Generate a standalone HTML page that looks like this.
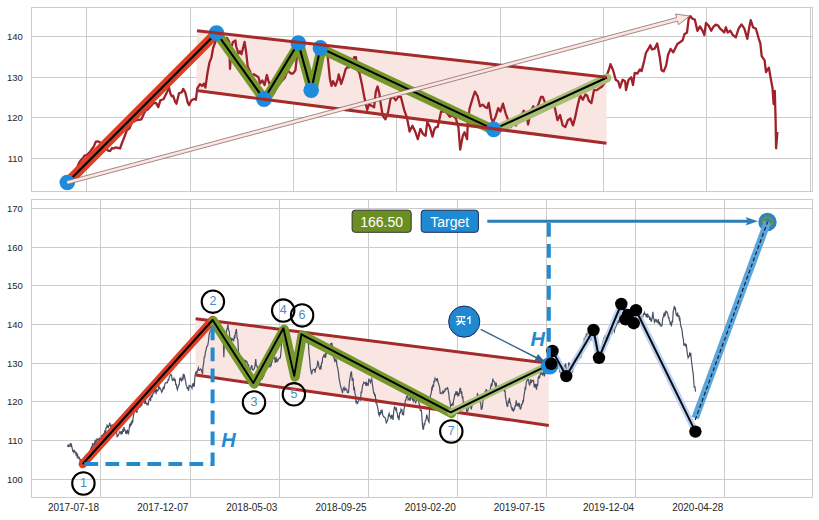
<!DOCTYPE html>
<html><head><meta charset="utf-8"><style>html,body{margin:0;padding:0;background:#fff;}svg{display:block;}</style></head>
<body>
<svg width="819" height="520" viewBox="0 0 819 520">
<rect width="819" height="520" fill="#fff"/>
<line x1="86.5" y1="7.5" x2="86.5" y2="191.5" stroke="#cccccc" stroke-width="1"/>
<line x1="190.5" y1="7.5" x2="190.5" y2="191.5" stroke="#cccccc" stroke-width="1"/>
<line x1="293.5" y1="7.5" x2="293.5" y2="191.5" stroke="#cccccc" stroke-width="1"/>
<line x1="396.5" y1="7.5" x2="396.5" y2="191.5" stroke="#cccccc" stroke-width="1"/>
<line x1="500.5" y1="7.5" x2="500.5" y2="191.5" stroke="#cccccc" stroke-width="1"/>
<line x1="603.5" y1="7.5" x2="603.5" y2="191.5" stroke="#cccccc" stroke-width="1"/>
<line x1="706.5" y1="7.5" x2="706.5" y2="191.5" stroke="#cccccc" stroke-width="1"/>
<line x1="810.5" y1="7.5" x2="810.5" y2="191.5" stroke="#cccccc" stroke-width="1"/>
<line x1="31.5" y1="36.5" x2="812.5" y2="36.5" stroke="#cccccc" stroke-width="1"/>
<line x1="31.5" y1="77.5" x2="812.5" y2="77.5" stroke="#cccccc" stroke-width="1"/>
<line x1="31.5" y1="117.5" x2="812.5" y2="117.5" stroke="#cccccc" stroke-width="1"/>
<line x1="31.5" y1="158.5" x2="812.5" y2="158.5" stroke="#cccccc" stroke-width="1"/>
<rect x="31.5" y="7.5" width="781.0" height="184.0" fill="none" stroke="#cccccc" stroke-width="1"/>
<line x1="100.5" y1="199.5" x2="100.5" y2="497.5" stroke="#cccccc" stroke-width="1"/>
<line x1="190.5" y1="199.5" x2="190.5" y2="497.5" stroke="#cccccc" stroke-width="1"/>
<line x1="279.5" y1="199.5" x2="279.5" y2="497.5" stroke="#cccccc" stroke-width="1"/>
<line x1="368.5" y1="199.5" x2="368.5" y2="497.5" stroke="#cccccc" stroke-width="1"/>
<line x1="457.5" y1="199.5" x2="457.5" y2="497.5" stroke="#cccccc" stroke-width="1"/>
<line x1="546.5" y1="199.5" x2="546.5" y2="497.5" stroke="#cccccc" stroke-width="1"/>
<line x1="635.5" y1="199.5" x2="635.5" y2="497.5" stroke="#cccccc" stroke-width="1"/>
<line x1="724.5" y1="199.5" x2="724.5" y2="497.5" stroke="#cccccc" stroke-width="1"/>
<line x1="31.5" y1="208.5" x2="812.5" y2="208.5" stroke="#cccccc" stroke-width="1"/>
<line x1="31.5" y1="247.5" x2="812.5" y2="247.5" stroke="#cccccc" stroke-width="1"/>
<line x1="31.5" y1="285.5" x2="812.5" y2="285.5" stroke="#cccccc" stroke-width="1"/>
<line x1="31.5" y1="324.5" x2="812.5" y2="324.5" stroke="#cccccc" stroke-width="1"/>
<line x1="31.5" y1="363.5" x2="812.5" y2="363.5" stroke="#cccccc" stroke-width="1"/>
<line x1="31.5" y1="401.5" x2="812.5" y2="401.5" stroke="#cccccc" stroke-width="1"/>
<line x1="31.5" y1="440.5" x2="812.5" y2="440.5" stroke="#cccccc" stroke-width="1"/>
<line x1="31.5" y1="479.5" x2="812.5" y2="479.5" stroke="#cccccc" stroke-width="1"/>
<rect x="31.5" y="199.5" width="781.0" height="298.0" fill="none" stroke="#cccccc" stroke-width="1"/>
<g font-family="Liberation Sans, sans-serif" font-size="9.5" fill="#262626" text-anchor="end">
<text x="22.8" y="40">140</text>
<text x="22.8" y="81">130</text>
<text x="22.8" y="121">120</text>
<text x="22.8" y="162">110</text>
<text x="22.8" y="212">170</text>
<text x="22.8" y="251">160</text>
<text x="22.8" y="289">150</text>
<text x="22.8" y="328">140</text>
<text x="22.8" y="367">130</text>
<text x="22.8" y="405">120</text>
<text x="22.8" y="444">110</text>
<text x="22.8" y="483">100</text>
</g>
<g font-family="Liberation Sans, sans-serif" font-size="10" fill="#262626" text-anchor="end">
<text x="99.1" y="511">2017-07-18</text>
<text x="188.3" y="511">2017-12-07</text>
<text x="277.4" y="511">2018-05-03</text>
<text x="366.6" y="511">2018-09-25</text>
<text x="455.8" y="511">2019-02-20</text>
<text x="544.9" y="511">2019-07-15</text>
<text x="634.1" y="511">2019-12-04</text>
<text x="723.3" y="511">2020-04-28</text>
</g>
<polygon points="197,30.8 606.5,77.3 606.5,143.3 196.5,90.5" fill="#f9e5e2"/>
<path d="M67.3 182.5 L69 178.8 L70.8 177.4 L72.9 174.5 L75 171 L77 167.9 L79 163 L81 160 L83 158 L84.7 155.5 L86.3 155.3 L88 154 L90 151.9 L92 149 L93.9 146.3 L95.8 141.6 L97.7 141.3 L99.7 142 L101.6 144 L103.3 146.1 L105 147 L106.8 149.3 L108.5 150.8 L110.2 150.8 L112 148 L113.7 148.6 L115.4 147.4 L117.7 147.9 L120 148.5 L122 143 L124 138 L127 130 L129.3 128.8 L131.6 123 L133.3 121.7 L135 121 L137.2 119.7 L139.4 119.9 L141.4 119.2 L144.1 113.2 L145.8 110.5 L147.5 109.8 L150 107 L151.8 105.1 L153.6 103.1 L156.2 103.1 L158.3 107.1 L160.3 100.4 L161.9 99.8 L163.6 99 L166.3 93.6 L169 87.6 L170.4 93.6 L171.7 96.3 L173.1 95.7 L175.1 101.7 L176.4 103.7 L179.1 93 L181.8 92.3 L183.2 88.9 L185.2 92.3 L187.9 103.1 L189.2 105.1 L191.2 100.4 L192.9 99.4 L194.6 99 L195.9 99.7 L197.3 88.3 L200 84.2 L202 86 L204 83.6 L205.4 87.6 L207.4 73.5 L209.4 62.7 L211.5 57.3 L213.1 48 L215.4 41.9 L216.5 37 L218.2 38.4 L220 40 L222 42.7 L224 45 L227 38 L229.2 41.9 L230 68.8 L231.5 46.5 L233 41.9 L235.4 40.4 L236.2 46.5 L238.5 53.5 L240 51.2 L241.5 54.2 L244.6 41.9 L246.2 52.7 L247.7 66.5 L250 71.2 L251.5 75.8 L253.8 74.2 L256.2 75.8 L258.5 77.3 L260 83.5 L262.3 80.4 L264.6 85 L266.9 75 L268.5 81.2 L271 88 L273.8 93.5 L277 86 L279.2 84.2 L281.5 81.2 L284.6 78 L287.7 70.4 L290.8 73.5 L293 73.5 L295.4 70.4 L296.9 56.5 L298.5 44.2 L300.2 52.1 L302 58 L305 75 L308 86 L311 90 L314 76 L317 60 L320 50 L322 51.2 L324 52 L325.9 52.6 L327.7 56.5 L330 79.6 L331.5 85.8 L333 81.2 L335.4 85.8 L337.7 79.6 L338.7 74.4 L341.2 83.9 L343.4 77.2 L345.6 69.2 L347.3 67.1 L349 67.5 L351.6 64.9 L354.2 57.1 L356 57.1 L356.8 69.2 L359.4 72.7 L362 84.8 L364.6 98.6 L367.2 109.9 L368.9 104.7 L371.5 105.6 L374.1 107.3 L375.8 91.7 L377.6 86.5 L379.3 93.4 L381 105.6 L382.8 115.9 L385.4 119.4 L388 112.5 L390.6 98.6 L393.1 96.9 L395.7 100.4 L398.3 96.9 L400.9 96.9 L402.6 103.6 L404.4 110.7 L407 117.7 L409.6 131.5 L412.4 125.8 L415 131 L417.8 139.2 L420.4 128.8 L423 134 L425.6 135.7 L427.3 121.9 L429.9 127.1 L432.5 136.6 L434.2 129.7 L435.9 127.1 L437.7 127.1 L439.4 119.3 L441.1 111.5 L443.7 111.5 L445.4 111.7 L447.2 113.3 L449.8 116.7 L452.4 115 L454.1 116.9 L455.8 118.4 L458.4 127.1 L460.2 149.6 L462.8 135.7 L464.5 132.3 L467.1 139.2 L468 118.4 L469.7 108.1 L472.3 99.4 L474.9 91.6 L477.5 96 L480.1 106.3 L482.7 104.6 L485.3 107.2 L487 108 L488.7 102.9 L491.3 118.4 L493 121.9 L495.6 116.7 L498.2 108.1 L500.4 111.5 L503 103.7 L505.6 113.3 L508.2 120.2 L510.8 127.1 L513.4 120.2 L516 125.4 L518.5 118.4 L520.2 115.8 L522 114 L523.7 110.7 L526.3 113.3 L528.1 124.5 L530.7 111.5 L533.3 106.3 L535.8 109.8 L538.4 104.6 L541 96.8 L542.8 96.8 L545.4 103.7 L547.1 103 L548.8 104.6 L550.5 104.3 L552.3 104.6 L554.9 108.1 L557.5 120.2 L560.1 115 L562.7 125.4 L565.3 127.1 L567.9 120.2 L570.4 118.4 L573 125.4 L575 117.9 L577.6 105.7 L580.2 95.4 L582.8 99.7 L585.4 94.5 L587.1 95.4 L588.8 100.6 L591.4 103.1 L594 90.2 L596.6 90.2 L599.2 88.4 L601.8 86.7 L604.4 83.3 L607 74.6 L608.8 70 L610.5 64.2 L613.1 70.3 L615.7 79.8 L618.3 81.5 L620 87.6 L622.6 79.8 L625.2 81.5 L626 90.2 L628.6 79.8 L631.2 77.2 L633 85 L634.7 72.9 L637.3 73.7 L639.9 69.4 L641.6 71.1 L644.2 60.8 L645.9 53 L648.5 48.7 L650.3 45.2 L652 49.5 L654.6 48.7 L657.2 43.5 L659.8 57.3 L661.5 70.3 L663.7 71.4 L666.2 65.4 L668 55 L670.6 48.9 L673.2 52.4 L675.4 48 L677.5 43.7 L679.2 42.9 L681 41.5 L682.7 40.3 L684.4 34.2 L687 32.5 L688.7 18.7 L690.5 16.1 L692.2 18.7 L694.8 19.5 L697.4 30.8 L700 26.4 L702.6 30.8 L704.3 35.1 L706 23 L708.6 25.6 L711.2 30.8 L713.4 26.8 L715.6 24.7 L718.2 25.6 L719.9 28.3 L721.6 29.9 L724.2 32.5 L725.9 27.3 L727.7 32.5 L730.3 30.8 L732.9 35.1 L735.8 37.4 L738.6 28.7 L741.5 24.4 L744.4 28.7 L747.3 38.8 L749 28.7 L750.7 20.1 L753.1 27.3 L755.9 28.7 L758.8 38.8 L760.3 43.1 L761.7 56.1 L764.6 60.4 L766 72 L768.9 67.6 L770.3 76 L772.5 88 L773.6 104 L774.8 91 L775.6 120 L776.1 148.3 L777.4 132" fill="none" stroke="#a0212a" stroke-width="2.3" stroke-linejoin="round"/>
<line x1="67.3" y1="182.5" x2="216.5" y2="33" stroke="#dd3e24" stroke-width="10" stroke-linecap="round"/>
<path d="M217.5 34.2 L265 100.4 L299.3 44.2 L312.2 91.4 L321.4 49.1 L494.7 130.6" fill="none" stroke="#74982b" stroke-width="10" stroke-linejoin="round" stroke-linecap="round"/>
<line x1="494.7" y1="130.4" x2="607" y2="78" stroke="#a6be74" stroke-width="9" stroke-linecap="round"/>
<path d="M67.3 182.5 L216.5 33 L264 99.2 L298.3 43 L311.2 90.2 L320.4 47.9 L493.7 129.4 L607 77.5" fill="none" stroke="#000" stroke-width="2.1" stroke-linejoin="round"/>
<circle cx="67.3" cy="182.5" r="7.8" fill="#1e8cdc"/>
<circle cx="216.5" cy="33" r="7.8" fill="#1e8cdc"/>
<circle cx="264" cy="99.2" r="7.8" fill="#1e8cdc"/>
<circle cx="298.3" cy="43" r="7.8" fill="#1e8cdc"/>
<circle cx="311.2" cy="90.2" r="7.8" fill="#1e8cdc"/>
<circle cx="320.4" cy="47.9" r="7.8" fill="#1e8cdc"/>
<circle cx="493.7" cy="129.4" r="7.8" fill="#1e8cdc"/>
<line x1="197" y1="30.8" x2="606.5" y2="77.3" stroke="#a52a2a" stroke-width="3"/>
<line x1="196.5" y1="90.5" x2="606.5" y2="143.3" stroke="#a52a2a" stroke-width="3"/>
<polygon points="67.8,184.2 677.5,21.1 678.5,24.7 689.6,16 675.6,14 676.6,17.6 66.8,180.8" fill="#fde5e2"/>
<path d="M67.8 184.2 L677.5 21.1 L678.5 24.7 L689.6 16 L675.6 14 L676.6 17.6 L66.8 180.8" fill="none" stroke="#7a5a5a" stroke-width="0.7" stroke-linejoin="miter"/>
<polygon points="195.6,318.7 548.8,363.3 548.8,425.4 195.6,375.1" fill="#f9e5e2"/>
<path d="M67.2 446.3 L67.7 446.4 L68.2 444.3 L68.7 446.6 L69.2 446.3 L69.8 445.8 L70.3 443.1 L70.8 447 L71.3 443.7 L71.8 447 L72.4 449.2 L72.9 451.3 L73.4 450.9 L73.9 452.3 L74.4 450.7 L75 452 L75.5 452 L76 454.5 L76.5 453.4 L77 456.1 L77.6 454.9 L78.1 458.9 L78.6 457.2 L79.1 457.2 L79.6 458.2 L80.1 461.4 L80.7 459.1 L81.3 463.2 L81.9 464.3 L82.4 465.7 L83 464.5 L83.5 464.3 L84 460.4 L84.5 464.5 L85 459 L85.5 461.5 L86 454.5 L86.6 458.3 L87.1 454.5 L87.6 457.1 L88.1 455.6 L88.6 457.6 L89.1 455 L89.7 453 L90.2 451.7 L90.8 448.7 L91.4 447.2 L92 448.5 L92.6 443.1 L93.1 445.2 L93.7 444.1 L94.3 445.1 L94.9 441.7 L95.4 443.1 L96 439.7 L96.6 442.5 L97.1 438.8 L97.7 439.1 L98.2 439.5 L98.8 442.2 L99.3 437.6 L99.8 440 L100.4 438.2 L100.9 438 L101.5 435.7 L102.1 435.9 L102.6 435.1 L103.2 437.1 L103.8 433.4 L104.4 433.3 L104.9 430.1 L105.5 434.4 L106 427.8 L106.6 427.8 L107.1 425 L107.7 425.5 L108.2 428 L108.7 426.3 L109.2 425.6 L109.7 422.8 L110.2 424.4 L110.7 426.9 L111.2 425.9 L111.7 425.3 L112.2 425 L112.7 430.6 L113.3 428 L113.9 431.5 L114.4 428.8 L115 430 L115.6 431.1 L116.1 432.6 L116.6 432.5 L117.1 437.3 L117.6 435.5 L118.2 435.6 L118.7 434.2 L119.2 433.3 L119.7 431.9 L120.2 432.5 L120.7 432.1 L121.2 434.7 L121.7 431 L122.3 434 L122.9 428.8 L123.4 431.9 L124 427.1 L124.6 429.8 L125.2 430.1 L125.8 433.6 L126.3 431.8 L126.9 434.2 L127.5 430.7 L128 431.8 L128.6 433.2 L129.2 428.2 L129.8 423.9 L130.3 425.7 L130.9 423.2 L131.5 424.2 L132.1 420.2 L132.6 423.3 L133.1 417.5 L133.6 415.5 L134.1 410.5 L134.7 410.3 L135.2 410.8 L135.8 410.3 L136.4 412.3 L136.9 412.4 L137.5 408.2 L138.1 408.6 L138.6 404.1 L139.2 407.6 L139.8 405.6 L140.4 407.4 L141 403 L141.6 406 L142.1 403.2 L142.7 402.5 L143.2 401.6 L143.8 400.5 L144.3 399.4 L144.8 404 L145.4 400.1 L146 403.2 L146.5 403.4 L147.1 404.9 L147.7 403.7 L148.3 404.4 L148.9 399.9 L149.5 398.9 L150 398.2 L150.6 400.9 L151.2 394.9 L151.8 397.7 L152.4 395.5 L152.9 393.7 L153.5 392.6 L154 392.8 L154.6 390.2 L155.1 391.9 L155.6 388.9 L156.1 394.2 L156.6 389.1 L157.2 391.2 L157.7 390.9 L158.2 390.2 L158.8 385.3 L159.4 388.4 L159.9 387.8 L160.5 389 L161.1 390.3 L161.7 392.3 L162.3 391.3 L162.9 388.7 L163.5 386.6 L164 389.5 L164.6 385.3 L165.2 383 L165.8 382.6 L166.3 382.8 L166.9 382.4 L167.5 382.6 L168.1 379.5 L168.7 380 L169.3 376.9 L169.8 375.9 L170.4 374.4 L171 374.3 L171.6 375.6 L172.2 380.1 L172.8 380.4 L173.3 379.7 L173.9 378.4 L174.6 381.2 L175.1 378.8 L175.7 384.5 L176.3 384.4 L176.8 387.6 L177.4 389.8 L178 387.6 L178.6 385.2 L179.2 384.8 L179.7 378.9 L180.3 379.6 L180.9 378.1 L181.5 380.7 L182.1 379.3 L182.7 379.8 L183.3 373.8 L183.9 377 L184.4 375.7 L185 379 L185.6 381.4 L186.2 385.2 L186.8 386.6 L187.4 389.1 L187.9 387.2 L188.5 390.9 L189.1 385.7 L189.6 386.3 L190.2 385.6 L190.8 386.5 L191.4 386.8 L192 388.2 L192.6 383.7 L193.2 386.7 L193.7 382.8 L194.3 386.6 L194.9 376 L195.5 373.4 L196.1 371.9 L196.7 373.1 L197.2 372.1 L197.8 370 L198.4 367.9 L199 370.3 L199.6 370.4 L200.1 369.6 L200.7 369 L201.3 369.7 L201.9 371.7 L202.5 374.2 L203.1 366.1 L203.7 363.1 L204.2 357.1 L204.8 356.8 L205.4 351.9 L206 350.4 L206.6 347.1 L207.2 346.1 L207.8 345.1 L208.5 340.9 L209.2 334.2 L209.8 332 L210.5 330.1 L211.2 330.2 L212.1 327.8 L212.6 328.7 L213.1 326.7 L213.6 327.3 L214.1 325.8 L214.6 329.8 L215.1 328.6 L215.7 330.4 L216.3 329.9 L216.9 333.7 L217.4 330.5 L218 332.5 L218.6 334.5 L219.1 331.5 L219.6 330.1 L220.2 329.9 L220.7 329.3 L221.2 327.8 L221.8 329.1 L222.5 331.2 L223.1 329.3 L223.8 357.3 L224.4 344.1 L225.1 334.5 L225.7 332.9 L226.4 332.4 L226.9 328.9 L227.4 328.4 L227.9 324.3 L228.5 330.1 L229.2 330.9 L229.8 337.6 L230.5 338.6 L231.1 342 L231.8 338.4 L232.4 338.9 L233.1 340.5 L233.7 340.8 L234.3 336.6 L234.8 337.5 L235.3 333.4 L235.9 331.1 L236.4 329 L237.1 337.7 L237.8 339.5 L238.5 351.9 L239.1 354.1 L239.8 355.9 L240.4 355.9 L241.1 358.6 L241.7 356.6 L242.4 362 L243.1 359 L243.7 359.9 L244.4 360.4 L244.9 361.8 L245.4 359.9 L245.9 362.1 L246.5 361.2 L247.1 362 L247.8 364.3 L248.5 364.8 L249.1 368.8 L249.7 372.6 L250.4 369.7 L251.1 367.2 L251.7 365.1 L252.4 369.2 L253.1 370.2 L253.7 369.7 L254.4 368.4 L255.1 365.2 L255.7 359.1 L256.4 366 L257.1 366 L257.6 369.4 L258.2 370.6 L258.7 372.3 L259.3 373.4 L259.9 373.5 L260.5 374.3 L261.1 376.8 L261.7 377 L262.2 379.3 L262.8 377.2 L263.4 376.4 L263.9 375.4 L264.5 373.2 L265 369.8 L265.6 369.4 L266.1 365.7 L266.7 368.4 L267.2 366.5 L267.8 367.6 L268.4 365.8 L268.9 365.9 L269.4 366.6 L270 366.9 L270.5 364 L271 366.1 L271.6 361.7 L272.1 362 L272.6 356 L273.2 359.1 L273.7 355.1 L274.3 358.5 L274.8 359.3 L275.3 362.9 L275.9 356.9 L276.4 361.9 L277 359.8 L277.7 361.2 L278.3 359 L278.8 359 L279.3 358 L279.9 358.2 L280.4 357.3 L281 351.6 L281.7 341.3 L282.4 339 L283.1 333.2 L283.6 334.5 L284.1 335.3 L284.6 338.9 L285.1 337.9 L285.6 342.3 L286.1 345.1 L286.6 349.7 L287.1 349.9 L287.6 355.2 L288.2 359.3 L288.7 363.6 L289.2 362.6 L289.7 367.7 L290.2 369.6 L290.8 371.4 L291.3 371.7 L291.8 376.9 L292.3 373.9 L292.8 373.8 L293.4 374.9 L293.9 378.1 L294.4 372.9 L294.9 370.7 L295.4 366.2 L296 365.2 L296.5 361.4 L297 360 L297.5 357.7 L298 354.9 L298.6 350.6 L299.1 348.7 L299.6 346.4 L300.1 344.9 L300.6 340.8 L301.1 339.3 L301.7 335 L302.2 337.7 L302.8 337.8 L303.4 337.9 L304 337.6 L304.6 339.6 L305.1 339.2 L305.7 340.3 L306.2 335.6 L306.7 339 L307.3 340.3 L307.8 343.4 L308.3 341.2 L309 353.4 L309.7 359.5 L310.3 367.5 L311 370.8 L311.6 374.4 L312.3 370.8 L312.9 369.9 L313.4 369.3 L314 369.3 L314.5 369.4 L315 372.6 L315.7 368.5 L316.3 367.9 L317 366.6 L317.8 361.5 L318.4 362.2 L318.9 366.9 L319.5 368.1 L320 369.7 L320.6 366.7 L321.1 367.8 L321.6 362.8 L322.2 362.7 L322.7 357.3 L323.3 357.1 L323.8 355.4 L324.4 356.5 L325 354.7 L325.6 357.8 L326.2 353 L326.8 352.8 L327.3 351.4 L327.9 353.7 L328.4 349.2 L329 353.3 L329.6 348.4 L330.1 349 L330.7 343.1 L331.3 344.8 L331.8 342.9 L332.3 345.6 L332.8 347.1 L333.5 357.3 L334.1 358.1 L334.6 360.7 L335.2 359.4 L335.8 360.9 L336.3 359.4 L336.9 365.1 L337.4 366.9 L338 369.6 L338.6 373.6 L339.1 379 L339.7 381.7 L340.3 384.9 L340.8 386.8 L341.4 389 L341.9 390.1 L342.5 393.1 L343.2 388.7 L344 387.3 L344.5 390.1 L345.1 389.4 L345.7 388.4 L346.2 389.8 L346.8 389.8 L347.4 392.5 L347.9 392.6 L348.5 392.5 L349.2 384.2 L349.9 378.7 L350.5 375 L351 372.4 L351.5 372.1 L352.2 380.9 L353 378.1 L353.7 389.2 L354.4 388.1 L355 393.6 L355.5 395.3 L356 402.1 L356.6 401.3 L357.1 403.7 L357.7 403.2 L358.3 401.2 L358.8 400.3 L359.4 398.8 L359.9 398.6 L360.5 400.7 L361.1 391.5 L361.6 392.9 L362.2 388 L362.8 384.6 L363.3 383.7 L363.8 382.3 L364.4 383.1 L364.9 383.3 L365.5 382.8 L366 385.9 L366.6 383 L367.2 384.8 L367.7 383.9 L368.3 384.8 L368.9 378.6 L369.4 380.2 L370 380.8 L370.5 382.4 L371.1 380.5 L371.7 379.1 L372.2 382.9 L372.7 386.1 L373.2 389.7 L373.7 393 L374.2 392.9 L374.7 395.5 L375.3 395.1 L375.8 401.9 L376.4 400.6 L376.9 404.8 L377.5 406.6 L378.1 409.5 L378.6 413.9 L379.2 415.5 L379.8 412.1 L380.4 414.6 L381 409.8 L381.6 412 L382.2 410.8 L382.7 415.1 L383.3 416.1 L383.9 417 L384.5 417 L385.1 417.6 L385.7 419.8 L386.3 422.8 L386.9 421.8 L387.4 420.7 L388 418.3 L388.5 415.4 L389.1 413.5 L389.7 416 L390.2 416.3 L390.8 418 L391.4 414.8 L391.9 418.3 L392.5 416.7 L393 419.9 L393.8 410.8 L394.5 406.9 L395.1 407.7 L395.6 409.5 L396.2 407.3 L396.8 411.9 L397.3 413.5 L397.9 418.3 L398.4 415.6 L399 420.1 L399.7 412.8 L400.5 412.7 L401 409.2 L401.5 410.4 L402 410 L402.5 415 L403 412.5 L403.5 415.4 L404.1 408.7 L404.7 406 L405.3 400.6 L405.9 399.9 L406.5 396.8 L407 396.6 L407.6 394.9 L408.1 399.7 L408.7 399 L409.2 399.6 L409.7 398.2 L410.2 400.7 L410.7 395.4 L411.2 397.2 L411.7 397.6 L412.3 399.4 L412.9 398 L413.4 401.1 L414 399.5 L414.5 400.5 L415.1 401.1 L415.7 402.6 L416.2 401.4 L416.8 399.8 L417.4 397.8 L418 399.9 L418.6 401.3 L419.2 403.4 L419.7 405.7 L420.3 410.4 L420.9 410.8 L421.4 409.7 L421.9 417 L422.5 425.4 L423 429.1 L423.5 429.2 L424.1 423.9 L424.7 424.4 L425.2 420.9 L426 419.8 L426.7 414.7 L427.3 416.8 L427.8 418.7 L428.4 421.1 L429 422.1 L429.7 404.8 L430.5 395.1 L431.2 393.5 L431.8 388.1 L432.3 389.1 L432.9 384.7 L433.5 387 L434 380.6 L434.6 382.2 L435.1 378.2 L435.7 379.2 L436.3 379.1 L436.8 381.1 L437.4 378.3 L438 382.2 L438.5 383.1 L439.1 385.7 L439.6 387.4 L440.2 393.2 L440.8 392.8 L441.3 393.8 L441.9 393.5 L442.5 392.3 L443 390.3 L443.6 392.7 L444.1 391.7 L444.7 391.5 L445.3 388.8 L445.9 389.6 L446.5 388.8 L447.1 388.1 L447.6 387.7 L448.2 390.6 L448.8 393.3 L449.3 399.7 L449.9 400.8 L450.6 406.6 L451.4 404.8 L451.9 405.2 L452.5 403.6 L453.1 404.6 L453.6 400.3 L454.2 398.1 L454.7 394.6 L455.3 394.8 L455.9 391.3 L456.5 395 L457.1 391.4 L457.8 396.3 L458.3 393.9 L458.9 394.9 L459.5 392.2 L460 388.3 L460.6 388.6 L461.1 394 L461.7 391.4 L462.3 398.4 L462.8 396.3 L463.4 404.8 L464 403.1 L464.5 405.5 L465.1 407.4 L465.6 407.4 L466.2 407.6 L466.8 412.4 L467.3 410.3 L467.9 410.6 L468.5 405.5 L469 407.2 L469.6 405.8 L470.1 406.2 L470.7 405.6 L471.3 409.4 L471.8 406.5 L472.3 405.4 L472.9 403.2 L473.4 403.6 L474 401.8 L474.6 401 L475.1 398.8 L475.7 400.7 L476.2 398 L476.8 398.1 L477.4 393.9 L477.9 394.6 L478.5 396.7 L479.1 400.3 L479.6 399.7 L480.2 402.6 L480.7 402.8 L481.2 409.1 L481.7 409.3 L482.3 407.1 L482.9 401.5 L483.4 399.7 L484 397.1 L484.5 399 L485.1 392 L485.7 392.6 L486.2 389.1 L486.8 394 L487.3 390.7 L487.9 391.1 L488.4 391.6 L489 392.6 L489.5 391 L490.1 389.7 L490.6 387.4 L491.2 384.6 L491.8 386.5 L492.3 383 L492.9 378.6 L493.4 381 L493.9 381.6 L494.5 381.8 L495 384.6 L495.6 386.8 L496.1 382.5 L496.7 386.2 L497.3 387.7 L497.9 389.6 L498.5 385.7 L499.1 388.4 L499.6 386.2 L500.2 389.4 L500.7 386.9 L501.2 389.8 L501.7 389 L502.2 388.7 L502.7 385.5 L503.2 388.6 L503.8 388.3 L504.4 391.7 L504.9 389.3 L505.5 397.1 L506 399.5 L506.6 403.7 L507.2 406.2 L507.7 406.3 L508.3 400.5 L508.9 403 L509.4 397.9 L510 402.4 L510.5 403 L511.1 406.8 L511.7 408.4 L512.2 409.9 L512.8 408.4 L513.4 410.9 L513.9 410.2 L514.5 409.1 L515 406 L515.6 406.1 L516.2 400.3 L516.7 404.8 L517.3 404.3 L517.8 405.4 L518.3 404 L518.9 406.6 L519.5 403.3 L520 408.6 L520.6 409 L521.2 406.9 L521.7 404.3 L522.3 404.2 L522.9 400.9 L523.4 401.4 L524 395.5 L524.6 392.2 L525.1 387.9 L525.7 388.6 L526.3 381.9 L526.8 381.4 L527.4 379.4 L527.9 379.9 L528.5 379.4 L529.1 384.1 L529.6 384.9 L530.2 383.7 L530.8 379.4 L531.3 382.8 L532.1 380.5 L532.8 380.7 L533.5 380.4 L534.3 387.4 L534.8 384.2 L535.4 386.2 L535.9 383.9 L536.5 389.7 L537.1 384.2 L537.6 386 L538.2 377.9 L538.8 376.6 L539.3 377.8 L539.9 376.6 L540.4 372.6 L541 374.3 L541.6 370.6 L542.1 374.4 L542.7 374.9 L543.3 373.4 L543.8 372.2 L544.4 376.4 L544.9 373.4 L545.5 373.1 L546.1 371.8 L546.6 372.5 L547.2 369.2 L547.8 367.4 L548.3 365.1 L548.9 366 L549.4 360.9 L550 359.7 L550.5 356.9 L551 358.7 L551.5 357.1 L552 356.2 L552.5 349.9 L553 352.1 L553.6 350.8 L554.2 354.1 L554.7 354.7 L555.3 357.1 L555.8 356.8 L556.4 361.1 L557 364.6 L557.5 368.8 L558.1 366.9 L558.7 366.9 L559.2 366.7 L559.8 371.9 L560.5 372.4 L561.3 374.2 L561.8 371 L562.4 372.6 L562.9 368 L563.5 367.5 L564.1 366.6 L564.6 367.7 L565.2 364.4 L565.8 364.1 L566.4 374 L567 372.1 L567.6 370.6 L568.1 370.4 L568.7 362.3 L569.3 364.7 L569.8 363.1 L570.4 368 L570.9 364.9 L571.5 367.7 L572 369.9 L572.5 372.7 L573.2 364.9 L574 360 L574.5 359.2 L575.1 362.1 L575.7 358.7 L576.2 359 L576.8 358.4 L577.4 358.5 L577.9 356.2 L578.5 356.2 L579.2 356.4 L579.9 358 L580.5 357.4 L581.1 357 L581.6 351.5 L582.2 351 L582.9 346.4 L583.7 344.4 L584.2 339.4 L584.8 340.2 L585.4 336.8 L585.9 336.7 L586.4 333.6 L587 337.1 L587.5 332.5 L588.2 336.6 L588.9 337.4 L589.5 339.2 L590.1 334.2 L590.6 340.8 L591.2 339.4 L591.8 337.2 L592.3 333.4 L592.9 333.1 L593.4 326.3 L594 336.3 L594.6 339.1 L595.1 342.6 L595.7 344.1 L596.4 351.2 L597.2 356.7 L597.8 357.7 L598.4 357.5 L599.1 360 L599.6 357.4 L600.2 355.3 L600.7 353.1 L601.2 353.1 L601.8 349.4 L602.3 345.5 L602.8 341.1 L603.4 340.1 L603.9 337.9 L604.5 338.3 L605 335.4 L605.6 337.5 L606.2 337.7 L606.7 342.3 L607.3 340.4 L607.8 340.8 L608.4 338.4 L608.9 339.7 L609.4 335 L609.9 333.9 L610.5 333.8 L611 331 L611.6 331.1 L612.1 334.1 L612.7 328.8 L613.3 329.4 L613.8 330.4 L614.4 331.7 L614.9 328.2 L615.5 327.9 L616.2 325.9 L617 323.5 L617.5 320.5 L618.1 322.5 L618.7 320.8 L619.2 322.8 L620 313.2 L620.7 307.8 L621.2 307 L621.7 307.5 L622.3 304.3 L623 306.4 L623.7 306.6 L624.3 306.4 L624.9 306.8 L625.4 308.8 L626 307.7 L626.5 311.5 L627.1 313.5 L627.7 315.9 L628.2 317.5 L628.8 318.8 L629.4 312.5 L629.9 317.4 L630.5 313.9 L631 318.3 L631.6 320.4 L632.2 321.2 L632.7 318.7 L633.5 321 L634.2 321.3 L634.9 317.6 L635.7 313.7 L636.2 315.8 L636.8 313.5 L637.4 315.3 L637.9 313.8 L638.5 315.9 L639 313.1 L639.6 316.3 L640.2 316.6 L640.7 318.5 L641.3 315.5 L641.8 318.6 L642.3 317.6 L642.9 317 L643.4 313.9 L644 314.2 L644.5 312.5 L645.1 314.3 L645.7 314.7 L646.2 317 L646.8 313.6 L647.4 317.6 L648 315 L648.6 316.5 L649.2 316.4 L649.7 319.8 L650.3 317.3 L650.9 320.8 L651.4 321.2 L652.2 317.8 L652.9 311.7 L653.4 317.9 L653.9 318.5 L654.4 322.4 L655 321.7 L655.6 319.5 L656.1 319.4 L656.7 321.8 L657.3 321.3 L657.8 322.2 L658.4 319 L658.9 324.1 L659.5 321.8 L660 325.3 L660.5 323.6 L661 326.2 L661.5 326 L662.1 325.2 L662.7 318.3 L663.3 317 L663.9 314.4 L664.4 315.7 L664.9 313.2 L665.4 314.4 L665.9 311.3 L666.4 312 L666.9 311.8 L667.4 313.2 L667.9 314.5 L668.4 318.4 L668.9 317 L669.4 320.6 L669.9 321.4 L670.4 325 L670.9 322.3 L671.4 326.5 L672 321.3 L672.6 321.8 L673.2 311.4 L673.8 309.2 L674.4 305.9 L674.9 309.6 L675.4 307.6 L675.9 313.1 L676.4 315.3 L677 315.6 L677.6 312.6 L678.2 317.1 L678.9 315 L679.4 319.5 L679.9 318.6 L680.4 323.3 L680.9 326.8 L681.4 327.4 L682 329.8 L682.7 336.3 L683.3 338.8 L683.9 345.8 L684.4 343.5 L684.9 345.6 L685.4 343.6 L685.9 346.1 L686.4 345.4 L687 351.1 L687.6 355 L688.1 357.8 L688.6 356.7 L689.1 356.6 L689.6 353.5 L690.1 354.8 L690.7 352.8 L691.3 359.2 L691.9 364.5 L692.6 369.8 L693.2 373.8 L694.2 387 L694.9 386.8 L695.6 391.6" fill="none" stroke="#485064" stroke-width="1.2"/>
<line x1="195.6" y1="318.7" x2="548.8" y2="363.3" stroke="#a52a2a" stroke-width="3"/>
<line x1="195.6" y1="375.1" x2="548.8" y2="425.4" stroke="#a52a2a" stroke-width="3"/>
<line x1="82.8" y1="464" x2="212.6" y2="320" stroke="#dd3e24" stroke-width="8.5" stroke-linecap="round"/>
<path d="M213.4 321 L254.1 384 L284.2 329.3 L295 376.9 L302.2 335.3 L451.5 413.4" fill="none" stroke="#74982b" stroke-width="9.5" stroke-linejoin="round" stroke-linecap="round"/>
<line x1="450.7" y1="412.4" x2="550" y2="364.3" stroke="#a6be74" stroke-width="7" stroke-linecap="round"/>
<path d="M82.8 464 L212.6 320 L253.3 383 L283.4 328.3 L294.2 375.9 L301.4 334.3 L450.7 412.4 L550 364.3" fill="none" stroke="#000" stroke-width="1.9" stroke-linejoin="round"/>
<path d="M84.4 464 H212.6 V320" fill="none" stroke="#228bd1" stroke-width="4" stroke-dasharray="13.8 7.2"/>
<path d="M548.8 223 V365" fill="none" stroke="#228bd1" stroke-width="4" stroke-dasharray="13.8 7.2"/>
<g font-family="Liberation Sans, sans-serif" font-size="12.5" fill="#4a8cc4" text-anchor="middle">
<circle cx="83.4" cy="483.5" r="11.2" fill="none" stroke="#000" stroke-width="2.1"/>
<text x="83.4" y="487">1</text>
<circle cx="212.9" cy="301.7" r="11.2" fill="none" stroke="#000" stroke-width="2.1"/>
<text x="212.9" y="305.2">2</text>
<circle cx="254" cy="402.5" r="11.2" fill="none" stroke="#000" stroke-width="2.1"/>
<text x="254" y="406">3</text>
<circle cx="283.2" cy="310.6" r="11.2" fill="none" stroke="#000" stroke-width="2.1"/>
<text x="283.2" y="314.1">4</text>
<circle cx="293.9" cy="394.3" r="11.2" fill="none" stroke="#000" stroke-width="2.1"/>
<text x="293.9" y="397.8">5</text>
<circle cx="302.1" cy="315.4" r="11.2" fill="none" stroke="#000" stroke-width="2.1"/>
<text x="302.1" y="318.9">6</text>
<circle cx="451.3" cy="431.5" r="11.2" fill="none" stroke="#000" stroke-width="2.1"/>
<text x="451.3" y="435">7</text>
</g>
<text x="537.7" y="345.8" font-family="Liberation Sans, sans-serif" font-size="20" font-weight="bold" font-style="italic" fill="#2389d0" text-anchor="middle">H</text>
<text x="228.5" y="446.5" font-family="Liberation Sans, sans-serif" font-size="20" font-weight="bold" font-style="italic" fill="#2389d0" text-anchor="middle">H</text>
<rect x="352.1" y="210.2" width="59.1" height="22.1" rx="3" fill="#6b8e23" stroke="#333" stroke-width="1"/>
<text x="381.6" y="226.5" font-family="Liberation Sans, sans-serif" font-size="14" fill="#fff" text-anchor="middle">166.50</text>
<rect x="421.2" y="210.2" width="57.2" height="22.1" rx="3" fill="#1f8ad2" stroke="#1a2a5a" stroke-width="1"/>
<text x="449.8" y="226.5" font-family="Liberation Sans, sans-serif" font-size="14" fill="#fff" text-anchor="middle">Target</text>
<line x1="487.3" y1="221.2" x2="750" y2="221.2" stroke="#2e7db5" stroke-width="3"/>
<polygon points="758,221.2 745.5,216.9 748,221.2 745.5,225.5" fill="#2e7db5"/>
<path d="M550 364.3 L552.5 351 L566.3 376.1 L593.5 330 L599 357.8 L621.3 304 L628 318 L636 310.2 L695.4 431.6" fill="none" stroke="#b3cdee" stroke-width="6.5" stroke-linejoin="round" opacity="0.85"/>
<path d="M550 364.3 L552.5 351 L566.3 376.1 L593.5 330 L599 357.8 L621.3 304 L628 318 L636 310.2 L695.4 431.6" fill="none" stroke="#0a0a14" stroke-width="2" stroke-linejoin="round"/>
<circle cx="549.6" cy="365.8" r="8.8" fill="#1e8cdc"/>
<circle cx="552.5" cy="351" r="6.2" fill="#000"/>
<circle cx="566.3" cy="376.1" r="6.2" fill="#000"/>
<circle cx="593.5" cy="330" r="6.2" fill="#000"/>
<circle cx="599" cy="357.8" r="6.2" fill="#000"/>
<circle cx="621.3" cy="304" r="6.2" fill="#000"/>
<circle cx="627.9" cy="315" r="6.2" fill="#000"/>
<circle cx="625.5" cy="319.3" r="6.2" fill="#000"/>
<circle cx="633.7" cy="323.2" r="6.2" fill="#000"/>
<circle cx="636" cy="310.2" r="6.2" fill="#000"/>
<circle cx="695.4" cy="431.6" r="6.2" fill="#000"/>
<path d="M548.9 347.5 V362" stroke="#1e8cdc" stroke-width="3.8"/>
<circle cx="551.2" cy="363.8" r="6.2" fill="#000"/>
<circle cx="767.5" cy="222" r="9.2" fill="#2b84c4"/>
<circle cx="767.5" cy="222" r="4.6" fill="none" stroke="#77902a" stroke-width="2.3"/>
<line x1="695.2" y1="418" x2="767.5" y2="222" stroke="#5aa5dc" stroke-width="7.5"/>
<line x1="695.2" y1="420" x2="767.5" y2="222" stroke="#1a2030" stroke-width="1.2" stroke-dasharray="4 2.5"/>
<line x1="480.7" y1="329.4" x2="540" y2="359.5" stroke="#35658f" stroke-width="1.5"/>
<polygon points="545,362 534.5,360.4 538,354" fill="#35658f"/>
<circle cx="464.2" cy="321.6" r="15.6" fill="#1f88d0" stroke="#1a2a5a" stroke-width="1"/>
<path d="M469.9 316.3 V323.9 M469.9 316.6 Q469 318.2 467 318.9" stroke="#fff" stroke-width="1.3" fill="none"/>
<g stroke="#fff" stroke-width="1.25" fill="none" stroke-linecap="butt" stroke-linejoin="miter"><path d="M456.3 316.6 H464.6 L463.8 318.8"/><path d="M457.6 318.2 L458.8 319.2 M457.9 320 L459.1 321"/><path d="M455.8 321.6 H465.6"/><path d="M461.6 317.6 L461.4 320.5 Q460.8 323.2 456.8 325"/><path d="M461.9 322.4 L465 325"/></g>
</svg>
</body></html>
